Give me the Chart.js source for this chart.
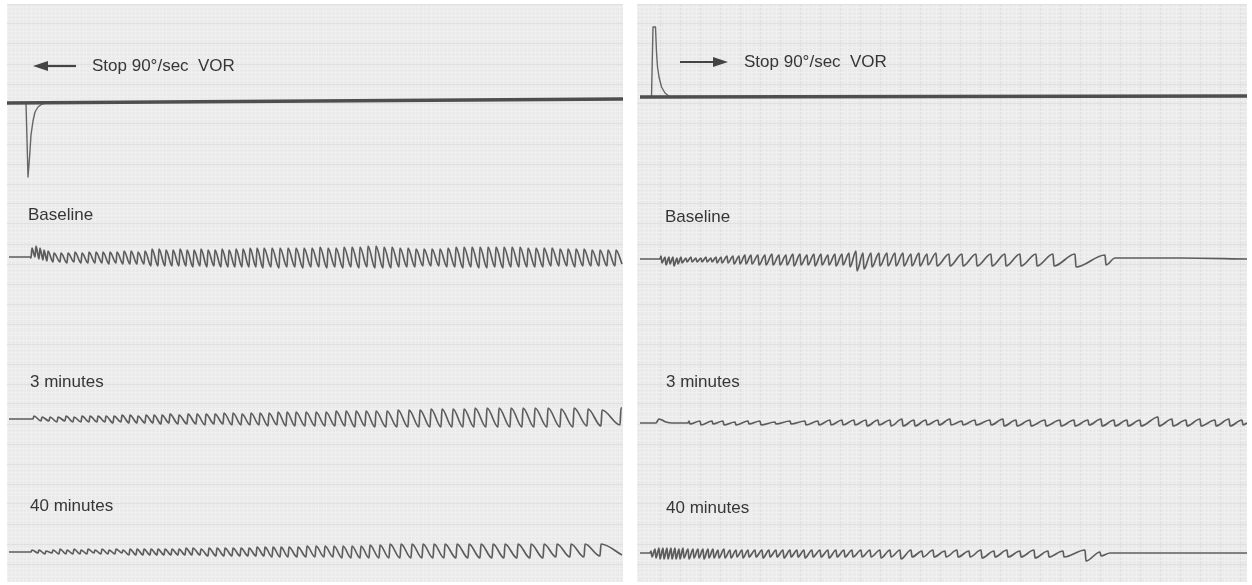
<!DOCTYPE html>
<html>
<head>
<meta charset="utf-8">
<script src="https://cdn.jsdelivr.net/npm/chart.js@4.4.1/dist/chart.umd.min.js"></script>
<style>
  body { margin: 0; background: #ffffff; width: 1252px; height: 585px; position: relative; overflow: hidden; }
  canvas { position: absolute; background: #eaeaea; }
  .label { position: absolute; font-family: "Liberation Sans", Arial, sans-serif; font-size: 17px; color: #363636; white-space: pre; line-height: 20px; }
</style>
</head>
<body>
<canvas id="leftPanel" width="616" height="578" style="left:7px; top:4px;"></canvas>
<canvas id="rightPanel" width="610" height="578" style="left:637px; top:4px;"></canvas>

<div class="label" style="left:92px; top:56px;">Stop 90°/sec  VOR</div>
<div class="label" style="left:744px; top:52px;">Stop 90°/sec  VOR</div>
<div class="label" style="left:28px; top:205px;">Baseline</div>
<div class="label" style="left:665px; top:207px;">Baseline</div>
<div class="label" style="left:30px; top:372px;">3 minutes</div>
<div class="label" style="left:666px; top:372px;">3 minutes</div>
<div class="label" style="left:30px; top:496px;">40 minutes</div>
<div class="label" style="left:666px; top:498px;">40 minutes</div>

<script>
// time axis is continuous recording time (arbitrary units), eye position in arbitrary units (up = positive)

// stimulus channel: chair velocity step
const leftStimLine = [[7, 0], [623, 4]];
const leftStimSpike = [[24, 0], [26, 0], [28, -74], [29.5, -55], [31, -32], [33, -18], [35, -9], [38, -4], [42, -1], [46, 0]];
const rightStimLine = [[640, 0], [1247, 1]];
const rightStimSpike = [[648, 0], [651.5, 0], [653, 70], [655.5, 70], [656.5, 45], [657.5, 30], [659, 20], [661.5, 10], [665, 4], [670, 0]];

// nystagmus beats: [time of fast phase, high value, low value]
const leftBaselineLead = [[9, 0], [30, 0]];
const leftBaselineBeats = [
  [31, 9, -1], [35, 11, 0], [39, 9, -2], [43, 7, -3], [47, 6, -4],
  [53, 4, -5], [60, 4, -5], [67, 4, -6], [74, 5, -5], [81, 4, -6], [88, 5, -6], [95, 5, -6], [102, 5, -6],
  [109, 5, -7], [116, 5, -6], [123, 6, -7], [130, 6, -7], [137, 5, -7], [144, 6, -7], [151, 8, -9], [158, 8, -9],
  [165, 7, -9], [172, 7, -9], [179, 8, -9], [186, 7, -9], [193, 7, -10], [200, 8, -9], [207, 7, -10], [214, 7, -9],
  [221, 8, -10], [228, 7, -10], [235, 8, -10], [242, 8, -10], [249, 9, -10], [256, 9, -10], [263, 9, -11], [271, 9, -10],
  [279, 9, -11], [287, 9, -10], [295, 9, -10], [303, 9, -11], [311, 9, -10], [319, 10, -10], [327, 9, -11], [335, 9, -10],
  [343, 10, -11], [351, 10, -10], [359, 10, -11], [367, 11, -10], [375, 11, -11], [383, 10, -11], [391, 10, -11], [399, 9, -10],
  [407, 9, -10], [415, 8, -10], [423, 8, -9], [431, 8, -9], [439, 8, -9], [447, 9, -10], [455, 10, -10], [463, 10, -11],
  [471, 10, -10], [479, 10, -11], [487, 10, -11], [495, 10, -10], [503, 10, -11], [511, 10, -10], [519, 10, -10], [527, 9, -10],
  [535, 9, -10], [543, 9, -10], [551, 9, -9], [559, 8, -9], [567, 8, -9], [575, 8, -10], [583, 8, -9], [591, 7, -9],
  [599, 7, -9], [607, 7, -9], [615, 7, -9]
];
const leftBaselineTail = [[622, -7]];

const left3minLead = [[9, 0], [32, 0]];
const left3minBeats = [
  [33, 3, 0], [41, 2, -2], [49, 2, -2], [57, 2, -3], [65, 3, -2], [73, 2, -3], [81, 3, -3], [89, 3, -3],
  [97, 3, -3], [105, 3, -3], [113, 3, -4], [121, 4, -3], [129, 4, -4], [137, 3, -4], [145, 4, -4], [153, 4, -4],
  [161, 4, -5], [169, 5, -4], [178, 4, -5], [187, 5, -5], [196, 5, -5], [205, 5, -6], [214, 5, -5], [223, 6, -5],
  [232, 6, -6], [241, 5, -6], [250, 6, -6], [259, 6, -6], [268, 6, -7], [277, 7, -6], [286, 7, -7], [295, 7, -7],
  [305, 7, -7], [315, 7, -7], [325, 7, -7], [335, 8, -7], [345, 8, -7], [355, 8, -8], [365, 8, -7], [375, 8, -8],
  [386, 8, -8], [397, 9, -8], [408, 9, -8], [419, 9, -8], [430, 10, -8], [441, 10, -8], [452, 10, -8], [463, 10, -8],
  [474, 11, -8], [486, 11, -8], [498, 11, -8], [510, 11, -8], [522, 11, -8], [534, 11, -8], [547, 11, -8], [560, 10, -8],
  [573, 11, -8], [587, 10, -7], [601, 9, -7], [620, 11, -6]
];
const left3minTail = [[622, 11]];

const left40minLead = [[9, 0], [30, 0]];
const left40minBeats = [
  [31, 2, 0], [38, 2, -1], [45, 1, -2], [52, 2, -1], [59, 3, -2], [66, 2, -2], [73, 3, -2], [80, 2, -2],
  [87, 3, -2], [94, 2, -1], [101, 3, -2], [108, 2, -2], [115, 3, -2], [122, 2, -1], [129, 3, -3], [136, 3, -3],
  [143, 3, -3], [150, 3, -3], [157, 3, -3], [164, 3, -3], [171, 3, -3], [178, 3, -3], [185, 4, -3], [192, 4, -3],
  [200, 3, -3], [208, 4, -4], [216, 4, -4], [224, 4, -4], [232, 4, -4], [240, 4, -4], [248, 4, -4], [256, 5, -4],
  [264, 5, -4], [272, 5, -5], [280, 5, -5], [288, 5, -5], [297, 5, -5], [306, 6, -5], [315, 6, -5], [324, 6, -5],
  [333, 6, -5], [342, 6, -6], [351, 6, -6], [360, 6, -6], [369, 7, -6], [379, 7, -6], [389, 8, -6], [400, 8, -6],
  [411, 8, -6], [422, 8, -6], [433, 8, -6], [444, 8, -6], [456, 8, -6], [468, 8, -6], [480, 8, -6], [492, 8, -6],
  [504, 8, -6], [517, 8, -6], [530, 8, -6], [543, 8, -6], [556, 8, -5], [570, 8, -5], [584, 8, -5], [600, 8, -4]
];
const left40minTail = [[622, -3]];

const rightBaselineLead = [[640, 0], [660, 0]];
const rightBaselineBeats = [
  [661, 3, -4], [665, 2, -6], [669, 2, -5], [673, 2, -7], [677, 1, -5], [681, 2, -4], [686, 1, -3], [691, 2, -3],
  [696, 1, -3], [701, 1, -3], [706, 2, -3], [711, 1, -3], [716, 2, -4], [721, 2, -4], [727, 3, -4], [733, 3, -5],
  [739, 3, -5], [745, 4, -5], [751, 4, -5], [758, 4, -6], [765, 4, -6], [772, 5, -6], [779, 4, -6], [786, 4, -6],
  [793, 5, -7], [800, 5, -6], [807, 4, -6], [814, 5, -7], [821, 5, -6], [828, 4, -6], [835, 5, -7], [842, 5, -6],
  [849, 6, -8], [856, 8, -12], [863, 6, -10], [871, 6, -8], [879, 6, -7], [887, 6, -7], [895, 6, -7], [903, 6, -7],
  [911, 5, -7], [919, 6, -7], [927, 5, -6], [936, 6, -7], [949, 5, -7], [962, 5, -7], [976, 5, -7], [991, 5, -7],
  [1005, 5, -7], [1020, 5, -7], [1036, 5, -7], [1053, 5, -7], [1075, 5, -8], [1105, 4, -6]
];
const rightBaselineTail = [[1115, 1], [1180, 1], [1247, 0]];

const right3minLead = [[640, 0], [656, 0], [659, 4], [662, 3], [666, 1], [672, 0], [688, 0]];
const right3minBeats = [
  [689, 2, -1], [700, 2, -2], [712, 2, -1], [723, 2, -2], [735, 1, -2], [748, 2, -1], [760, 2, -2], [775, 1, -1],
  [790, 2, -1], [805, 2, -2], [818, 2, -2], [830, 3, -2], [842, 3, -2], [854, 3, -2], [866, 3, -3], [878, 3, -2],
  [890, 3, -3], [902, 4, -3], [914, 3, -3], [926, 3, -2], [938, 3, -2], [950, 4, -2], [962, 2, -2], [975, 3, -2],
  [990, 3, -2], [1003, 4, -3], [1016, 3, -3], [1030, 3, -3], [1045, 3, -3], [1060, 3, -3], [1074, 3, -3], [1088, 3, -2],
  [1101, 4, -3], [1114, 3, -3], [1127, 3, -3], [1140, 3, -3], [1158, 6, -3], [1172, 4, -3], [1186, 3, -3], [1200, 4, -3],
  [1215, 3, -3], [1229, 4, -3], [1242, 3, -2]
];
const right3minTail = [[1247, 0]];

const right40minLead = [[640, 0], [650, 0]];
const right40minBeats = [
  [651, 2, -4], [655, 4, -5], [659, 5, -6], [663, 5, -6], [667, 5, -6], [671, 5, -6], [675, 5, -6], [679, 4, -6],
  [683, 5, -5], [688, 4, -6], [693, 4, -5], [698, 4, -5], [703, 4, -6], [708, 4, -5], [713, 4, -5], [718, 3, -5],
  [724, 4, -5], [730, 3, -5], [736, 3, -4], [742, 3, -5], [748, 3, -4], [755, 3, -4], [762, 3, -5], [769, 3, -4],
  [776, 3, -4], [783, 3, -5], [790, 3, -4], [797, 3, -4], [804, 3, -5], [812, 3, -4], [820, 3, -4], [828, 3, -5],
  [836, 3, -4], [844, 3, -4], [852, 3, -4], [861, 3, -4], [870, 3, -4], [880, 3, -5], [890, 3, -4], [900, 3, -6],
  [911, 3, -4], [922, 2, -4], [933, 3, -4], [945, 2, -4], [957, 3, -4], [969, 2, -4], [981, 3, -5], [994, 2, -4],
  [1007, 3, -4], [1020, 2, -4], [1034, 3, -5], [1048, 2, -4], [1063, 2, -4], [1085, 3, -8], [1100, 1, -3]
];
const right40minTail = [[1110, 0], [1247, 0]];

// layout: rows of each channel's zero line, counted down from the panel top
const PANEL_HEIGHT = 578;
const ROW_STIM_LEFT = 99, ROW_STIM_RIGHT = 93;
const ROW_BASELINE = 253, ROW_3MIN = 415, ROW_40MIN = 548;
const FAST_PHASE = 1;

const TRACE_COLOR = '#5c5c5c';
const STIM_COLOR = '#4e4e4e';

function toPoints(pairs, row) {
    return pairs.map(([x, v]) => ({ x: x, y: -row + v }));
}

function buildTrace(lead, beats, tail, row, fastUp) {
    const pts = toPoints(lead, row);
    beats.forEach(([t, hi, lo]) => {
        if (fastUp) {
            pts.push({ x: t, y: -row + lo });
            pts.push({ x: t + FAST_PHASE, y: -row + hi });
        } else {
            pts.push({ x: t, y: -row + hi });
            pts.push({ x: t + FAST_PHASE, y: -row + lo });
        }
    });
    return pts.concat(toPoints(tail, row));
}

function lineSet(data, color, width, smooth) {
    return {
        data: data,
        borderColor: color,
        borderWidth: width,
        pointRadius: 0,
        tension: 0,
        cubicInterpolationMode: smooth ? 'monotone' : 'default',
        borderJoinStyle: 'round',
        fill: false
    };
}

// arrows next to the stimulus caption
const arrowPlugin = {
    id: 'stimArrow',
    afterDraw(chart, args, opts) {
        const ctx = chart.ctx;
        const xs = chart.scales.x, ys = chart.scales.y;
        const tail = xs.getPixelForValue(opts.from);
        const tip = xs.getPixelForValue(opts.to);
        const y = ys.getPixelForValue(-opts.row);
        const dir = Math.sign(opts.to - opts.from);
        const head = 15;
        ctx.save();
        ctx.strokeStyle = '#444444';
        ctx.fillStyle = '#444444';
        ctx.lineWidth = 2.2;
        ctx.beginPath();
        ctx.moveTo(tail, y);
        ctx.lineTo(tip - dir * head, y);
        ctx.stroke();
        ctx.beginPath();
        ctx.moveTo(tip, y);
        ctx.lineTo(tip - dir * head, y - 5);
        ctx.lineTo(tip - dir * head, y + 5);
        ctx.closePath();
        ctx.fill();
        ctx.restore();
    }
};

function gridScale(min, max) {
    return {
        type: 'linear',
        min: min,
        max: max,
        display: true,
        border: { display: false },
        ticks: { display: false, stepSize: 4, autoSkip: false, maxTicksLimit: 1000 },
        grid: {
            drawTicks: false,
            lineWidth: 1,
            color: (c) => (c.tick && Math.round(c.tick.value) % 20 === 0) ? '#e0e0e0' : '#f0f0f0'
        }
    };
}

function makePanel(id, xMin, xMax, datasets, arrow) {
    return new Chart(document.getElementById(id), {
        type: 'line',
        data: { datasets: datasets },
        options: {
            responsive: false,
            animation: false,
            parsing: true,
            layout: { padding: 0 },
            plugins: {
                legend: { display: false },
                tooltip: { enabled: false },
                stimArrow: arrow
            },
            scales: {
                x: gridScale(xMin, xMax),
                y: gridScale(-PANEL_HEIGHT, 0)
            }
        },
        plugins: [arrowPlugin]
    });
}

document.addEventListener('DOMContentLoaded', () => {
    makePanel('leftPanel', 7, 623, [
        lineSet(toPoints(leftStimLine, ROW_STIM_LEFT), STIM_COLOR, 3.5, false),
        lineSet(toPoints(leftStimSpike, ROW_STIM_LEFT), '#666666', 1.4, false),
        lineSet(buildTrace(leftBaselineLead, leftBaselineBeats, leftBaselineTail, ROW_BASELINE, true), TRACE_COLOR, 1.7, true),
        lineSet(buildTrace(left3minLead, left3minBeats, left3minTail, ROW_3MIN, true), TRACE_COLOR, 1.7, true),
        lineSet(buildTrace(left40minLead, left40minBeats, left40minTail, ROW_40MIN, true), TRACE_COLOR, 1.7, true)
    ], { from: 76, to: 33, row: 62 });

    makePanel('rightPanel', 637, 1247, [
        lineSet(toPoints(rightStimLine, ROW_STIM_RIGHT), STIM_COLOR, 3.5, false),
        lineSet(toPoints(rightStimSpike, ROW_STIM_RIGHT), '#666666', 1.4, false),
        lineSet(buildTrace(rightBaselineLead, rightBaselineBeats, rightBaselineTail, ROW_BASELINE + 2, false), TRACE_COLOR, 1.7, true),
        lineSet(buildTrace(right3minLead, right3minBeats, right3minTail, ROW_3MIN + 4, false), TRACE_COLOR, 1.7, true),
        lineSet(buildTrace(right40minLead, right40minBeats, right40minTail, ROW_40MIN + 1, false), TRACE_COLOR, 1.7, true)
    ], { from: 680, to: 728, row: 58 });
});
</script>
</body>
</html>
